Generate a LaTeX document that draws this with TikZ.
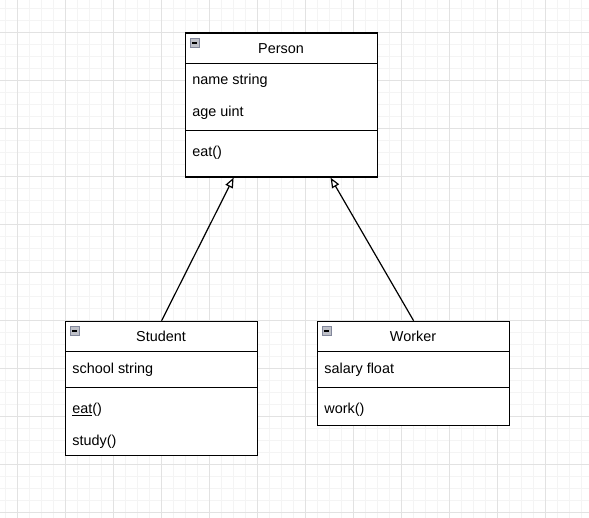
\documentclass[tikz,border=0pt]{standalone}
\usepackage{fontspec}
\setmainfont{Liberation Sans}
\usetikzlibrary{arrows.meta}
\definecolor{minorgrid}{RGB}{244,244,244}
\definecolor{majorgrid}{RGB}{226,226,226}
\definecolor{iconfill}{RGB}{190,192,200}
\definecolor{iconedge}{RGB}{130,135,155}
\tikzset{
    classbox/.style={
        draw, line width=1.2pt, fill=white, anchor=north west, inner sep=0pt,
        minimum width=192pt, minimum height=#1
    },
    classtitle/.style={anchor=base, inner sep=0pt, font=\fontsize{14.4}{17}\selectfont},
    member/.style={anchor=base west, inner sep=0pt, font=\fontsize{14.4}{17}\selectfont},
    divider/.style={line width=1.2pt},
    collapse/.style={draw=iconedge, fill=iconfill, line width=0.8pt},
    extends/.style={line width=1.2pt, -{Triangle[length=10pt,width=8pt,fill=white]}}
}
\newcommand{\classBox}[5] {
	\node[classbox=#4] (#1) at (#2,#3) {};
	\draw[divider] (#2,#3+31.2) -- (#2+192,#3+31.2);
	\node[classtitle] (#1-title) at (#2+96,#3+21.2) {#5};
	\filldraw[collapse] (#2+5,#3+6) rectangle (#2+14,#3+15);
	\draw[line width=1.5pt] (#2+7,#3+10.5) -- (#2+12,#3+10.5);
}
\newcommand{\classMember}[4] {
	\node[member] (#1) at (#2+7.2,#3+21.2) {#4};
}
\newcommand{\classDivider}[2] {
	\draw[divider] (#1,#2) -- (#1+192,#2);
}

\begin{document}
\begin{tikzpicture}[x=1pt,y=-1pt]
		\useasboundingbox (0,0) rectangle (589,518);
		% Grid background
		\fill[white] (0,0) rectangle (589,518);
		\foreach \x in {5,17,...,589} \draw[minorgrid] (\x,0) -- (\x,518);
		\foreach \y in {8,20,...,518} \draw[minorgrid] (0,\y) -- (589,\y);
		\foreach \x in {17,65,...,589} \draw[majorgrid] (\x,0) -- (\x,518);
		\foreach \y in {32,80,...,518} \draw[majorgrid] (0,\y) -- (589,\y);

		% Person
		\classBox{person}{185}{32.5}{144pt}{Person}
		\classMember{person-name}{185}{63.7}{name string}
		\classMember{person-age}{185}{94.9}{age uint}
		\classDivider{185}{130.9}
		\classMember{person-eat}{185}{135.7}{eat()}

		% Student
		\classBox{student}{65}{320.7}{134.4pt}{Student}
		\classMember{student-school}{65}{351.9}{school string}
		\classDivider{65}{387.9}
		\classMember{student-eat}{65}{392.7}{\underline{eat}()}
		\classMember{student-study}{65}{423.9}{study()}

		% Worker
		\classBox{worker}{317}{320.7}{104pt}{Worker}
		\classMember{worker-salary}{317}{351.9}{salary float}
		\classDivider{317}{387.9}
		\classMember{worker-work}{317}{392.7}{work()}

		% Inheritance
		\draw[extends] (student.north) -- ([xshift=-48pt]person.south);
		\draw[extends] (worker.north) -- ([xshift=49pt]person.south);

	\end{tikzpicture}
\end{document}
